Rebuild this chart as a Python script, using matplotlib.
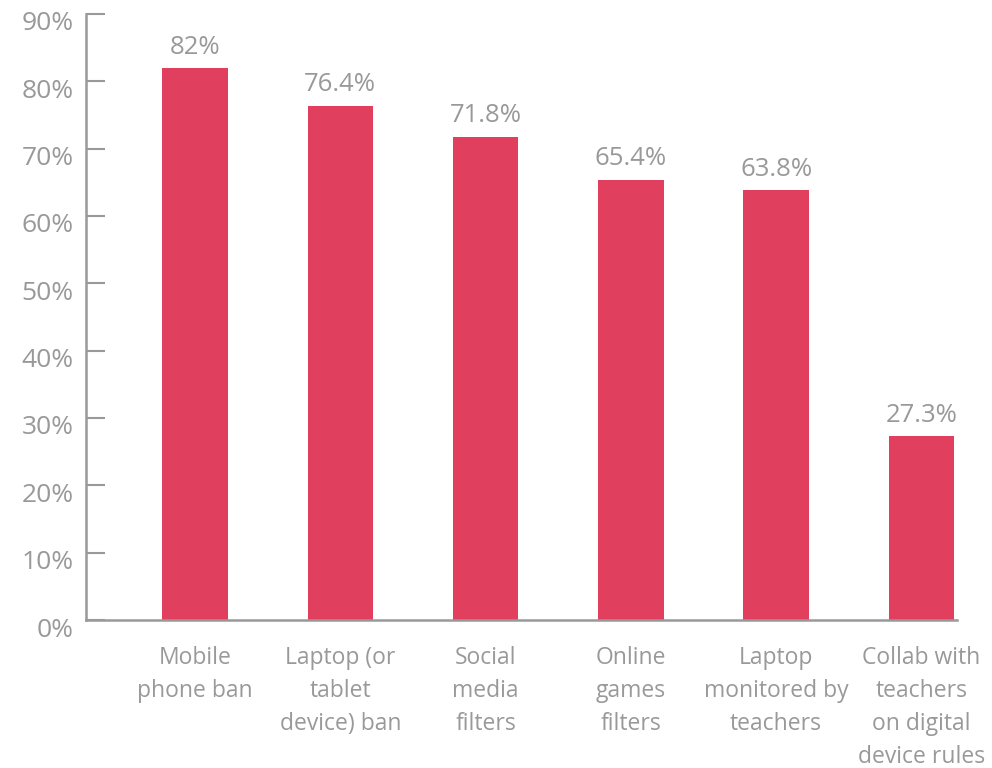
import matplotlib
matplotlib.use("Agg")
import matplotlib.pyplot as plt
from matplotlib.transforms import ScaledTranslation

categories = [
    "Mobile\nphone ban",
    "Laptop (or\ntablet\ndevice) ban",
    "Social\nmedia\nfilters",
    "Online\ngames\nfilters",
    "Laptop\nmonitored by\nteachers",
    "Collab with\nteachers\non digital\ndevice rules",
]
values = [82, 76.4, 71.8, 65.4, 63.8, 27.3]
value_labels = ["82%", "76.4%", "71.8%", "65.4%", "63.8%", "27.3%"]
yticks = [0, 10, 20, 30, 40, 50, 60, 70, 80, 90]
ytick_labels = [f"{t}%" for t in yticks]

BAR = "#E0405E"
GREY = "#999999"
plt.rcParams["font.family"] = ["Open Sans", "DejaVu Sans"]

fig = plt.figure(figsize=(9.92, 7.68), dpi=100)
ax = fig.add_axes([0.0867, 0.1927, 0.8780, 0.7891])

x = list(range(len(categories)))
ax.bar(x, values, width=0.45, color=BAR, zorder=2)

for xi, v, lab in zip(x, values, value_labels):
    ax.annotate(lab, (xi, v), xytext=(0, 6), textcoords="offset points",
                ha="center", va="bottom", fontsize=18.5, color=GREY)

ax.set_xlim(-0.75, 5.245)
ax.set_ylim(0, 90)
ax.set_yticks(yticks)
ax.set_yticklabels(ytick_labels, fontsize=19, color=GREY)
ax.set_xticks(x)
ax.set_xticklabels(categories, fontsize=16.5, color=GREY, linespacing=1.5, va="top")

ax.tick_params(axis="y", direction="in", length=14, width=1.5, color=GREY, pad=9)
ax.tick_params(axis="x", length=0, pad=18.5)

# y labels sit slightly below their ticks
shift = ScaledTranslation(0, -7 / 100, fig.dpi_scale_trans)
for lbl in ax.get_yticklabels():
    lbl.set_transform(lbl.get_transform() + shift)

# upper two ticks are drawn faint
for t in ax.yaxis.get_major_ticks()[-2:]:
    t.tick1line.set_color("#e6e6e6")

for s in ["top", "right"]:
    ax.spines[s].set_visible(False)
for s in ["left", "bottom"]:
    ax.spines[s].set_color(GREY)
    ax.spines[s].set_linewidth(1.8)

fig.savefig("out.png", dpi=100)
